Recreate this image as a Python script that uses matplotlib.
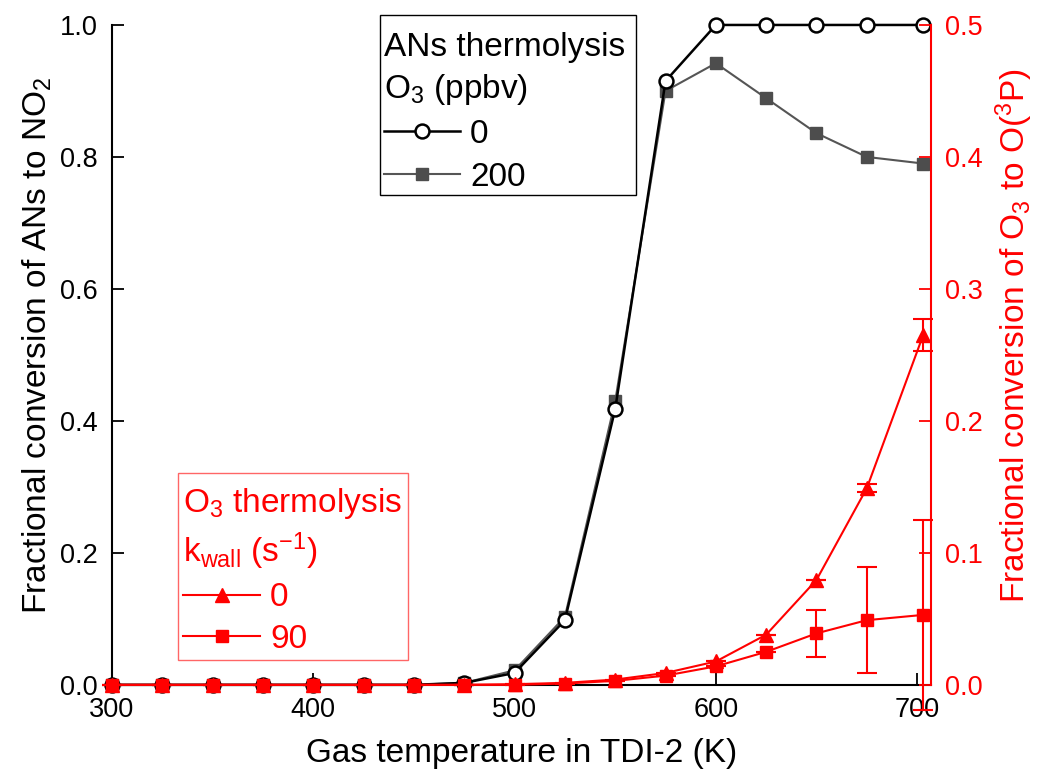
import matplotlib
matplotlib.use("Agg")
import matplotlib.pyplot as plt
from matplotlib.lines import Line2D
from matplotlib.patches import Rectangle

plt.rcParams["font.family"] = ["Liberation Sans", "DejaVu Sans"]
plt.rcParams["mathtext.fontset"] = "custom"
plt.rcParams["mathtext.rm"] = "Liberation Sans"
plt.rcParams["mathtext.it"] = "Liberation Sans"
plt.rcParams["font.size"] = 19

RED = "#ff0000"

# =========================
# Dados
# =========================

temp = [300, 325, 350, 375, 400, 425, 450, 475, 500, 525, 550, 575, 600, 625, 650, 675, 703]

# conversão ANs -> NO2 (eixo esquerdo)
ans_o3_0 = [0, 0, 0, 0, 0, 0, 0, 0.003, 0.018, 0.098, 0.418, 0.915, 1.0, 1.0, 1.0, 1.0, 1.0]
ans_o3_200 = [0, 0, 0, 0, 0, 0, 0, 0.003, 0.022, 0.103, 0.430, 0.900, 0.942, 0.889, 0.836, 0.800, 0.790]

# conversão O3 -> O(3P) (eixo direito)
o3_kwall_0 = [0, 0, 0, 0, 0, 0, 0, 0, 0.0005, 0.0015, 0.004, 0.009, 0.0177, 0.038, 0.0795, 0.149, 0.265]
o3_kwall_0_err = [0, 0, 0, 0, 0, 0, 0, 0, 0, 0, 0, 0, 0, 0, 0, 0.003, 0.012]
o3_kwall_90 = [0, 0, 0, 0, 0, 0, 0, 0, 0, 0.001, 0.003, 0.007, 0.014, 0.025, 0.039, 0.049, 0.053]
o3_kwall_90_err = [0, 0, 0, 0, 0, 0, 0, 0, 0, 0, 0, 0, 0, 0, 0.018, 0.040, 0.072]

ans_labels = ["0", "200"]
o3_labels = ["0", "90"]

# =========================
# Gráfico
# =========================

fig = plt.figure(figsize=(10.37, 7.8), dpi=100)
ax = fig.add_axes([0.108, 0.122, 0.790, 0.846])
ax2 = ax.twinx()

ax.plot(temp, ans_o3_200, color="#555555", lw=1.5, marker="s", ms=9,
        mfc="#4d4d4d", mec="#4d4d4d", clip_on=False, zorder=3)
ax.plot(temp, ans_o3_0, color="black", lw=1.8, marker="o", ms=10,
        mfc="white", mec="black", mew=1.8, clip_on=False, zorder=4)

ax2.errorbar(temp, o3_kwall_90, yerr=o3_kwall_90_err, color=RED, lw=1.5,
             marker="s", ms=9, capsize=7, elinewidth=1.5, capthick=1.5,
             clip_on=False, zorder=3)
ax2.errorbar(temp, o3_kwall_0, yerr=o3_kwall_0_err, color=RED, lw=1.5,
             marker="^", ms=10, capsize=7, elinewidth=1.5, capthick=1.5,
             clip_on=False, zorder=4)

ax.set_xlim(300, 707)
ax.set_ylim(0, 1.0)
ax2.set_ylim(0, 0.5)

ax.set_xticks([300, 400, 500, 600, 700])
ax.set_yticks([0.0, 0.2, 0.4, 0.6, 0.8, 1.0])
ax.set_yticklabels(["0.0", "0.2", "0.4", "0.6", "0.8", "1.0"])
ax2.set_yticks([0.0, 0.1, 0.2, 0.3, 0.4, 0.5])
ax2.set_yticklabels(["0.0", "0.1", "0.2", "0.3", "0.4", "0.5"])

ax.tick_params(direction="in", length=8.5, width=1.3, labelsize=19.5, pad=10)
ax.tick_params(axis="x", pad=9)
ax2.tick_params(direction="in", length=8.5, width=1.3, labelsize=19.5, pad=10,
                colors=RED)

for a in (ax, ax2):
    a.spines["top"].set_visible(False)
ax.spines["right"].set_visible(False)
ax2.spines["left"].set_visible(False)
ax2.spines["bottom"].set_visible(False)
ax2.spines["right"].set_color(RED)
ax2.spines["right"].set_linewidth(1.5)
ax.spines["left"].set_linewidth(1.5)
ax.spines["bottom"].set_linewidth(1.5)

ax.set_xlabel("Gas temperature in TDI-2 (K)", fontsize=24)
ax.xaxis.set_label_coords(0.5, -0.080)
ax.set_ylabel("Fractional conversion of ANs to NO$_2$", fontsize=24)
ax.yaxis.set_label_coords(-0.071, 0.515)
ax2.set_ylabel("Fractional conversion of O$_3$ to O($^3$P)", fontsize=24, color=RED)
ax2.yaxis.set_label_coords(1.076, 0.529)

# =========================
# Legendas (caixas desenhadas à parte)
# =========================

ax2.add_patch(Rectangle((0.327, 0.742), 0.313, 0.273, transform=ax2.transAxes,
                        facecolor="white", edgecolor="black", lw=1.0,
                        clip_on=False, zorder=4.5))
ax2.add_patch(Rectangle((0.0806, 0.038), 0.2808, 0.283, transform=ax2.transAxes,
                        facecolor="white", edgecolor="#ff6666", lw=1.0,
                        clip_on=False, zorder=4.5))

h_ans = [
    Line2D([], [], color="black", lw=1.8, marker="o", ms=10, mfc="white", mew=1.8),
    Line2D([], [], color="#555555", lw=1.5, marker="s", ms=9, mfc="#4d4d4d", mec="#4d4d4d"),
]
leg1 = ax2.legend(h_ans, ans_labels, title="ANs thermolysis\nO$_3$ (ppbv)",
                  loc="upper left", bbox_to_anchor=(0.3315, 0.989), borderaxespad=0,
                  fontsize=24, title_fontsize=24, alignment="left",
                  frameon=False, handlelength=2.3, handletextpad=0.3,
                  borderpad=0, labelspacing=0.35)
leg1.get_title().set_linespacing(1.35)
ax2.add_artist(leg1)

h_o3 = [
    Line2D([], [], color=RED, lw=1.5, marker="^", ms=10),
    Line2D([], [], color=RED, lw=1.5, marker="s", ms=9),
]
leg2 = ax2.legend(h_o3, o3_labels, title="O$_3$ thermolysis\nk$_{wall}$ (s$^{-1}$)",
                  loc="upper left", bbox_to_anchor=(0.087, 0.302), borderaxespad=0,
                  fontsize=24, title_fontsize=24, alignment="left",
                  frameon=False, handlelength=2.3, handletextpad=0.3,
                  borderpad=0, labelspacing=0.32)
leg2.get_title().set_color(RED)
leg2.get_title().set_linespacing(1.3)
for t in leg2.get_texts():
    t.set_color(RED)

plt.savefig("out.png", dpi=100)
